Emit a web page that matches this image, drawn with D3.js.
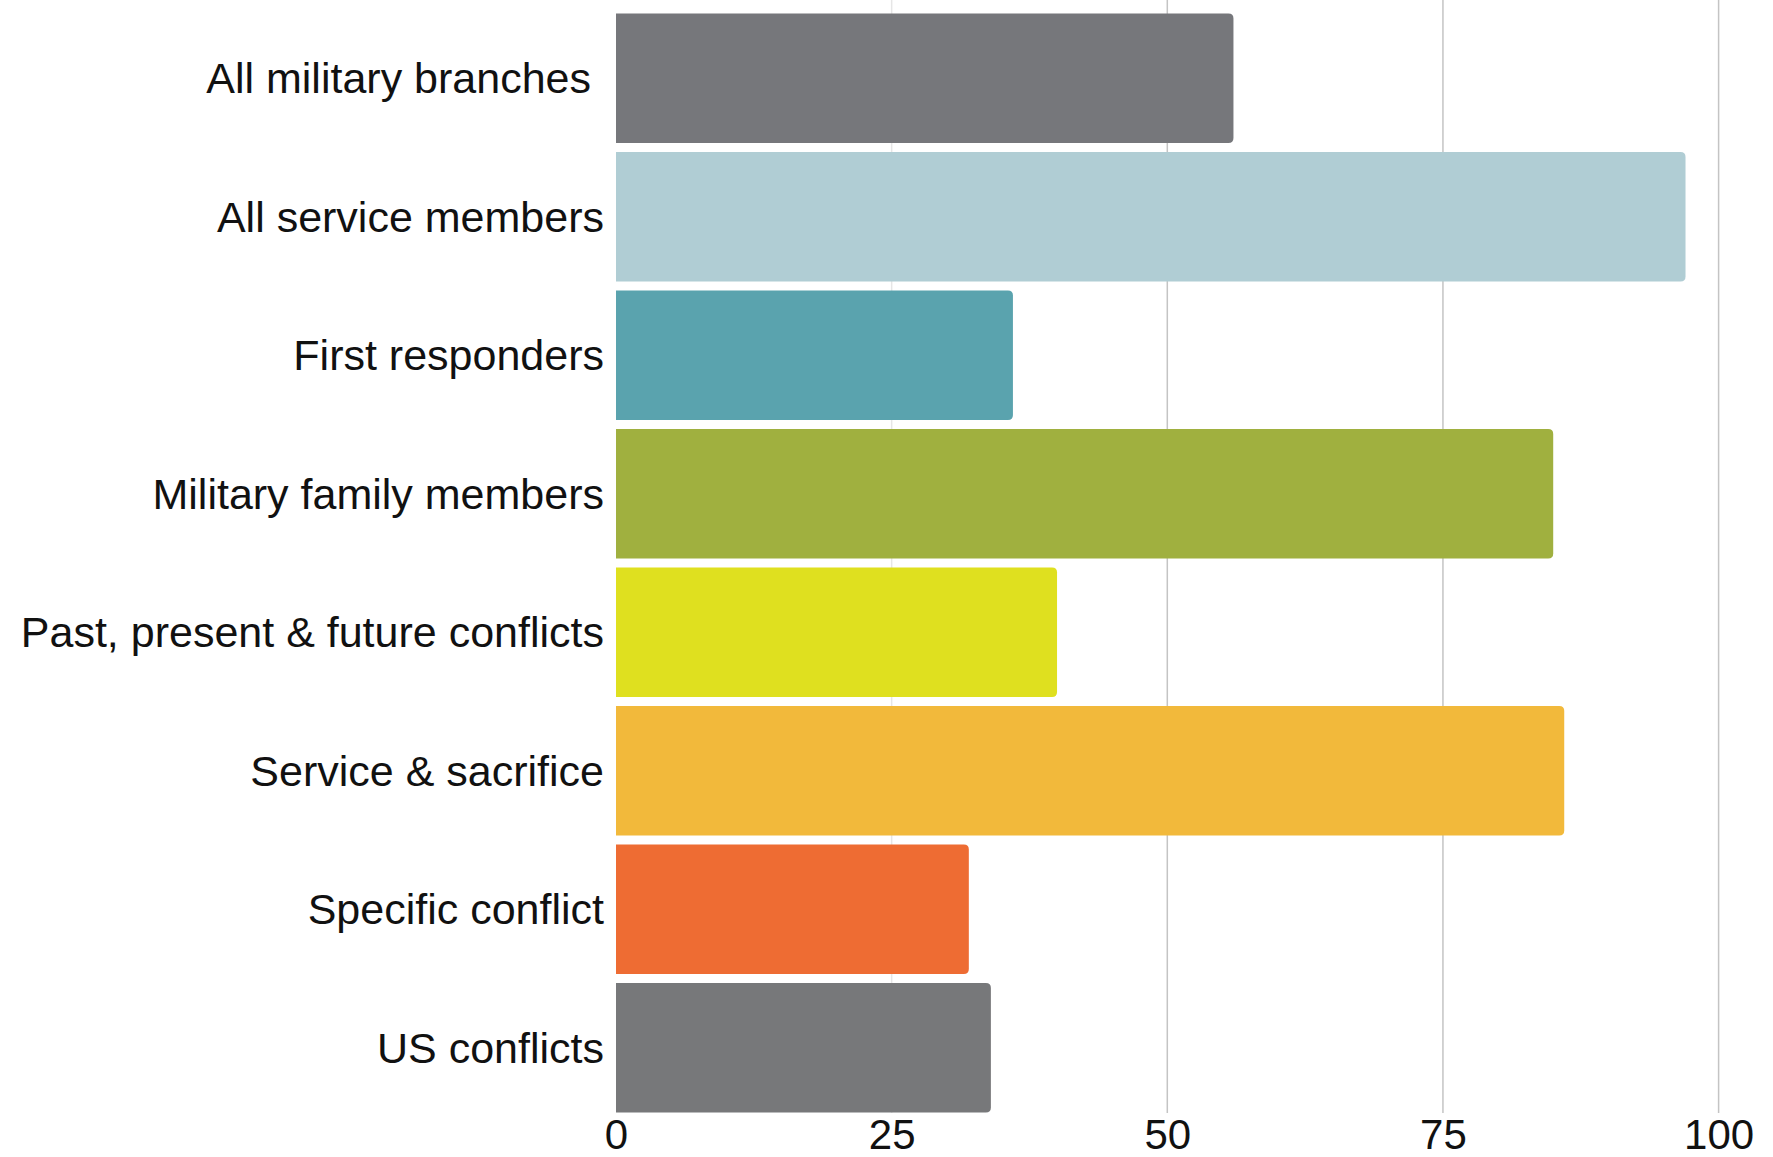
<!DOCTYPE html>
<html>
<head>
<meta charset="utf-8">
<script src="https://cdn.jsdelivr.net/npm/d3@7"></script>
<style>
  body { margin: 0; background: #fff; }
  text { font-family: "Liberation Sans", Arial, sans-serif; fill: #111; }
</style>
</head>
<body>
<div id="chart"></div>
<script>

let categories = ["All military branches", "All service members", "First responders",
	"Military family members", "Past, present & future conflicts", "Service & sacrifice",
	"Specific conflict", "US conflicts"];
let values = [56, 97, 36, 85, 40, 86, 32, 34];
let colors = ["#76777b", "#b0cdd4", "#5aa3ae", "#a0b03f", "#dfe01f", "#f2b93b", "#ee6c33", "#77787a"];
let ticks = [0, 25, 50, 75, 100];

let width = 1773, height = 1157;

let svg = d3.select("#chart")
	.append("svg")
	.attr("width", width)
	.attr("height", height);

// scales
let xScale = d3.scaleLinear().domain([0, 100]).range([616, 1718.6]);
let yScale = d3.scaleBand().domain(categories).range([13.6, 1112.6]).paddingInner(0.065).paddingOuter(0);

// grid lines (the 25 one is barely visible in the original)
svg.append("g")
	.selectAll("line")
	.data(ticks.filter(t => t > 0))
	.join("line")
	.attr("x1", d => xScale(d))
	.attr("x2", d => xScale(d))
	.attr("y1", 0)
	.attr("y2", 1113)
	.attr("stroke", d => d == 25 ? "#e6e6e6" : "#c4c4c4")
	.attr("stroke-width", 1.5);

// bars, rounded on the right end only
let r = 5;
svg.append("g")
	.selectAll("path")
	.data(values)
	.join("path")
	.attr("d", function (d, i) {
		let x0 = xScale(0), x1 = xScale(d);
		let y0 = yScale(categories[i]), y1 = y0 + yScale.bandwidth();
		return `M${x0},${y0}H${x1 - r}Q${x1},${y0} ${x1},${y0 + r}V${y1 - r}Q${x1},${y1} ${x1 - r},${y1}H${x0}Z`;
	})
	.attr("fill", (d, i) => colors[i]);

// category labels
svg.append("g")
	.selectAll("text")
	.data(categories)
	.join("text")
	.attr("x", (d, i) => i == 0 ? 591 : 604)
	.attr("y", d => yScale(d) + yScale.bandwidth() / 2)
	.attr("dy", "0.35em")
	.attr("text-anchor", "end")
	.attr("font-size", 43)
	.text(d => d);

// x axis labels
let xAxis = svg.append("g")
	.attr("transform", "translate(0, 1113)")
	.call(d3.axisBottom(xScale).tickValues(ticks).tickSize(0).tickPadding(0));
xAxis.select(".domain").remove();
xAxis.selectAll("text")
	.attr("y", 36)
	.attr("dy", 0)
	.attr("font-size", 42)
	.attr("font-family", "Liberation Sans, Arial, sans-serif")
	.attr("fill", "#111");

</script>
</body>
</html>
